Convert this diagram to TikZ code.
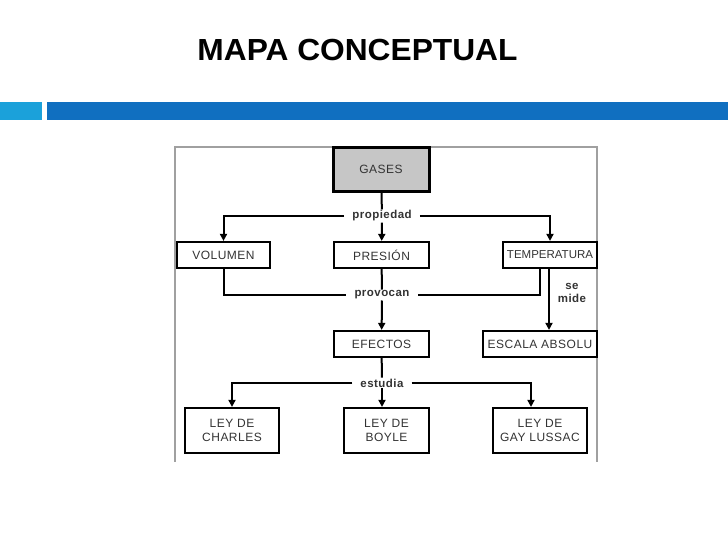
\documentclass[tikz,border=0pt]{standalone}
\usepackage{fontspec}
\setmainfont{Liberation Sans}
\usetikzlibrary{arrows.meta}

\definecolor{barlight}{HTML}{1BA1DA}
\definecolor{bardark}{HTML}{106FC0}
\definecolor{txtgray}{HTML}{333333}
\definecolor{framegray}{HTML}{A0A0A0}
\definecolor{gasfill}{HTML}{C6C6C6}

\tikzset{
  concept/.style={draw, line width=2.2pt, inner sep=1pt, text=txtgray, align=center,
    font=\fontsize{12}{14}\selectfont\addfontfeature{LetterSpace=4}},
  linkword/.style={text=txtgray, inner xsep=8pt, inner ysep=1pt, align=center,
    font=\fontsize{11.5}{13.5}\selectfont\bfseries\addfontfeature{LetterSpace=4}},
  conn/.style={line width=2pt},
  arr/.style={conn, -{Triangle[length=7pt,width=7pt]}}
}

\begin{document}
\begin{tikzpicture}[x=1pt,y=-1pt]
\useasboundingbox (0,0) rectangle (728,546);
% header
\node[font=\fontsize{30.5}{32}\selectfont\bfseries, xscale=1.04] (title) at (357.5,50) {MAPA CONCEPTUAL};
\fill[barlight] (0,102) rectangle (42,120);
\fill[bardark] (47,102) rectangle (728,120);
% frame of the picture
\draw[framegray, line width=1.2pt] (175,462) -- (175,147) -- (597,147) -- (597,462);
% concepts
\node[concept, fill=gasfill, line width=3pt, minimum width=96pt, minimum height=44pt] (gases) at (381,169) {GASES};
\node[concept, minimum width=93pt, minimum height=26pt] (volumen) at (223.5,255) {VOLUMEN};
\node[concept, minimum width=95pt, minimum height=26pt] (presion) at (381.5,255) {PRESIÓN};
\node[concept, minimum width=94pt, minimum height=26pt, inner xsep=0pt,
  font=\fontsize{11.5}{14}\selectfont] (temperatura) at (550,255) {TEMPERATURA};
\node[concept, minimum width=95pt, minimum height=26pt] (efectos) at (381.5,344) {EFECTOS};
\node[concept, minimum width=114pt, minimum height=26pt] (escala) at (540,344) {ESCALA ABSOLU};
\node[concept, minimum width=94pt, minimum height=45pt] (charles) at (232,430.5) {LEY DE\\CHARLES};
\node[concept, minimum width=85pt, minimum height=45pt] (boyle) at (386.5,430.5) {LEY DE\\BOYLE};
\node[concept, minimum width=94pt, minimum height=45pt] (gaylussac) at (540,430.5) {LEY DE\\GAY LUSSAC};
% link words
\node[linkword] (propiedad) at (382,216) {propiedad};
\node[linkword] (provocan) at (382,295) {provocan};
\node[linkword] (estudia) at (382,383) {estudia};
\node[linkword, inner xsep=1pt] (semide) at (572,293) {se\\mide};
% connectors
\draw[conn] (gases) -- (propiedad);
\draw[arr] (propiedad) -- (presion);
\draw[arr] (propiedad.west) -| (volumen);
\draw[arr] (propiedad.east) -| (temperatura);
\draw[conn] (volumen) |- (provocan.west);
\draw[conn] ([xshift=-10pt]temperatura.south) |- (provocan.east);
\draw[conn] (presion) -- (provocan);
\draw[arr] (provocan) -- (efectos);
\draw[arr] ([xshift=-1pt]temperatura.south) -- ([xshift=9pt]escala.north);
\draw[conn] (efectos) -- (estudia);
\draw[arr] (estudia.west) -| (charles);
\draw[arr] (estudia) -- (estudia |- boyle.north);
\draw[arr] (estudia.east) -| ([xshift=-9pt]gaylussac.north);
\end{tikzpicture}
\end{document}
